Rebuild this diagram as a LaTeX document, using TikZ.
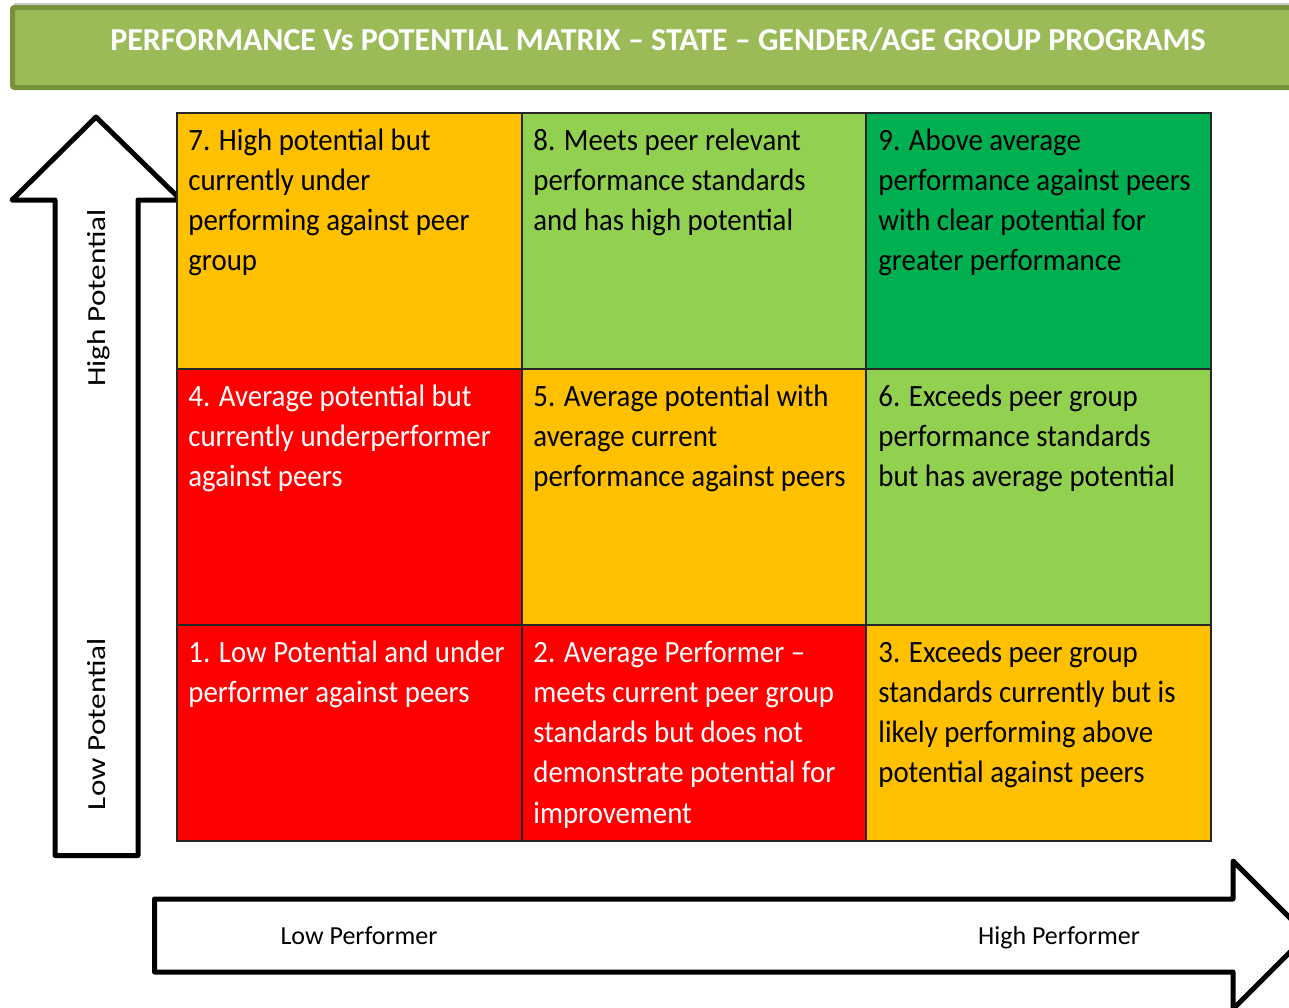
\documentclass[tikz,border=0pt]{standalone}
\usepackage{fontspec}
\setmainfont{Carlito}
\newfontfamily\cellfont[FakeStretch=0.93]{Carlito}
\usetikzlibrary{positioning}
\definecolor{cOrange}{HTML}{FFC000}
\definecolor{cLight}{HTML}{92D050}
\definecolor{cGreen}{HTML}{00B050}
\definecolor{cRed}{HTML}{FF0000}
\definecolor{barFill}{HTML}{9BBB59}
\definecolor{barLine}{HTML}{76923C}
\definecolor{gridLine}{HTML}{262626}
\begin{document}
\begin{tikzpicture}[x=0.5pt,y=-0.5pt,
  cellbox/.style={draw=gridLine, line width=1pt, inner sep=0pt, anchor=north west, minimum height=128pt},
  ctext/.style={anchor=base west, inner sep=0pt, font=\cellfont\fontsize{15.5}{20.15}\selectfont},
  bigarrow/.style={draw=black, fill=white, line width=2.5pt, line join=round},
  axislabel/.style={inner sep=0pt, anchor=base, font=\fontsize{13}{15}\selectfont}]
\useasboundingbox (0,0) rectangle (1289,1007);
\clip (0,0) rectangle (1289,1007);
% title bar
\draw[draw=black!20, line width=1pt] (14,4) -- (1320,4);
\draw[fill=barFill, draw=barLine, line width=2.5pt, rounded corners=1pt] (12.5,7.5) rectangle (1320,87.5);
\node[font=\bfseries\fontsize{16}{19}\selectfont, text=white, inner sep=0pt] (title) at (658,40) {PERFORMANCE Vs POTENTIAL MATRIX – STATE – GENDER/AGE GROUP PROGRAMS};
% vertical arrow
\draw[bigarrow] (55,855.5) -- (55,200) -- (12,200) -- (96,117) -- (181,200) -- (138,200) -- (138,855.5) -- cycle;
% horizontal arrow
\draw[bigarrow] (154.5,899) -- (1233,899) -- (1233,861) -- (1307,935) -- (1233,1009) -- (1233,972) -- (154.5,972) -- cycle;
% cells
\node[cellbox, fill=cOrange, minimum width=172.5pt] (c7) at (176,112) {};
\node[cellbox, fill=cLight, minimum width=172pt] (c8) at (521,112) {};
\node[cellbox, fill=cGreen, minimum width=172.5pt] (c9) at (865,112) {};
\node[cellbox, fill=cRed, minimum width=172.5pt] (c4) at (176,368) {};
\node[cellbox, fill=cOrange, minimum width=172pt] (c5) at (521,368) {};
\node[cellbox, fill=cLight, minimum width=172.5pt] (c6) at (865,368) {};
\node[cellbox, fill=cRed, minimum width=172.5pt, minimum height=108pt] (c1) at (176,624) {};
\node[cellbox, fill=cRed, minimum width=172pt, minimum height=108pt] (c2) at (521,624) {};
\node[cellbox, fill=cOrange, minimum width=172.5pt, minimum height=108pt] (c3) at (865,624) {};
% cell texts
\node[ctext] (t7) at (188,150) {\parbox[t]{170pt}{7. High potential but\\currently under\\performing against peer\\group}};
\node[ctext] (t8) at (533,150) {\parbox[t]{170pt}{8. Meets peer relevant\\performance standards\\and has high potential}};
\node[ctext] (t9) at (878,150) {\parbox[t]{170pt}{9. Above average\\performance against peers\\with clear potential for\\greater performance}};
\node[ctext, text=white] (t4) at (188,406) {\parbox[t]{170pt}{4. Average potential but\\currently underperformer\\against peers}};
\node[ctext] (t5) at (533,406) {\parbox[t]{170pt}{5. Average potential with\\average current\\performance against peers}};
\node[ctext] (t6) at (878,406) {\parbox[t]{170pt}{6. Exceeds peer group\\performance standards\\but has average potential}};
\node[ctext, text=white] (t1) at (188,662) {\parbox[t]{170pt}{1. Low Potential and under\\performer against peers}};
\node[ctext, text=white] (t2) at (533,662) {\parbox[t]{170pt}{2. Average Performer –\\meets current peer group\\standards but does not\\demonstrate potential for\\improvement}};
\node[ctext] (t3) at (878,662) {\parbox[t]{170pt}{3. Exceeds peer group\\standards currently but is\\likely performing above\\potential against peers}};
% axis labels
\node[axislabel, rotate=90] (hipot) at (105.5,298) {\scalebox{1.2}[1]{High Potential}};
\node[axislabel, rotate=90] (lopot) at (105.5,724) {\scalebox{1.2}[1]{Low Potential}};
\node[axislabel] (loperf) at (359,944.5) {Low Performer};
\node[axislabel] (hiperf) at (1059,944.5) {High Performer};
\end{tikzpicture}
\end{document}
